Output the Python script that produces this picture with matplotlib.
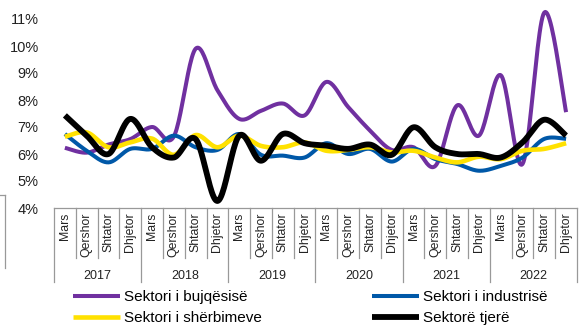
import numpy as np
import matplotlib
matplotlib.use('Agg')
import matplotlib.pyplot as plt
import matplotlib.transforms as mtransforms
from matplotlib.lines import Line2D

plt.rcParams['font.family'] = ['Liberation Sans', 'DejaVu Sans']

# Të dhënat tremujore (%)
vitet = ['2017', '2018', '2019', '2020', '2021', '2022']
muajt = ['Mars', 'Qershor', 'Shtator', 'Dhjetor']

bujqesia = [6.23, 6.05, 6.35, 6.55, 7.0, 6.65, 9.9, 8.36, 7.3, 7.6, 7.87, 7.43,
            8.67, 7.74, 6.87, 6.15, 6.25, 5.56, 7.8, 6.68, 8.92, 5.63, 11.24, 7.55]
industria = [6.74, 6.12, 5.69, 6.19, 6.19, 6.68, 6.25, 6.15, 6.74, 5.97, 5.94, 5.87,
             6.4, 6.0, 6.19, 5.72, 6.19, 5.81, 5.63, 5.38, 5.56, 5.87, 6.56, 6.56]
sherbimet = [6.64, 6.8, 6.25, 6.43, 6.57, 5.97, 6.7, 6.25, 6.68, 6.3, 6.25, 6.43,
             6.12, 6.15, 6.25, 6.06, 6.12, 5.87, 5.69, 5.9, 5.81, 6.12, 6.19, 6.4]
te_tjere = [7.43, 6.68, 6.0, 7.3, 6.25, 5.87, 6.55, 4.26, 6.68, 5.75, 6.74, 6.4,
            6.31, 6.19, 6.35, 5.97, 6.99, 6.25, 6.0, 6.0, 5.87, 6.43, 7.27, 6.68]

seri = [
    ('Sektori i bujqësisë', bujqesia, '#7030A0', 2.9),
    ('Sektori i industrisë', industria, '#0058A8', 2.9),
    ('Sektori i shërbimeve', sherbimet, '#FFE100', 3.3),
    ('Sektorë tjerë', te_tjere, '#000000', 4.2),
]


def smooth(vals, steps=24):
    # kurbë Bezier nëpër pikat, si vija e lëmuar e Excel-it
    pts = np.column_stack([np.arange(len(vals), dtype=float), np.asarray(vals, float)])
    t = np.linspace(0, 1, steps)[1:, None]
    out = [pts[0]]
    n = len(pts)
    for i in range(n - 1):
        p0, p1 = pts[max(i - 1, 0)], pts[i]
        p2, p3 = pts[i + 1], pts[min(i + 2, n - 1)]
        c1 = p1 + (p2 - p0) / 6
        c2 = p2 - (p3 - p1) / 6
        seg = (1 - t) ** 3 * p1 + 3 * (1 - t) ** 2 * t * c1 + 3 * (1 - t) * t ** 2 * c2 + t ** 3 * p2
        out.extend(seg)
    out = np.array(out)
    return out[:, 0], out[:, 1]


fig = plt.figure(figsize=(5.79, 3.29), dpi=100)
ax = fig.add_axes([54 / 579, 1 - 208 / 329, 523 / 579, 189 / 329])

vijat = []
for i, (emri, vlerat, ngjyra, lw) in enumerate(seri):
    xs, ys = smooth(vlerat)
    vija, = ax.plot(xs, ys, color=ngjyra, lw=lw, label=emri, zorder=2 + i,
                    solid_capstyle='butt', solid_joinstyle='round', clip_on=False)
    vijat.append(vija)

n = len(vitet) * len(muajt)
ax.set_xlim(-0.5, n - 0.5)
ax.set_ylim(4, 11)
ax.set_yticks(range(4, 12))
ax.set_yticklabels([f'{v}%' for v in range(4, 12)], fontsize=10.5, color='#222222')
ax.tick_params(axis='y', length=0, pad=11)
ax.set_xticks([])
for s in ['top', 'right', 'left']:
    ax.spines[s].set_visible(False)
ax.spines['bottom'].set_color('#999999')
ax.spines['bottom'].set_linewidth(0.9)

# boshti me dy nivele: muajt dhe vitet
tr = mtransforms.blended_transform_factory(ax.transData, ax.transAxes)
for k in range(n + 1):
    fund = -0.392 if k % 4 == 0 else -0.265
    ax.plot([k - 0.5, k - 0.5], [0, fund], color='#999999', lw=0.9,
            transform=tr, clip_on=False)
for k in range(n):
    ax.text(k, -0.025, muajt[k % 4], transform=tr, rotation=90, ha='center',
            va='top', fontsize=8.8, color='#222222')
for j, viti in enumerate(vitet):
    ax.text(j * 4 + 1.5, -0.36, viti, transform=tr, ha='center', va='center',
            fontsize=9, color='#222222')

# legjenda plotësohet sipas rreshtave
rendi = [0, 2, 1, 3]
ax.legend([vijat[i] for i in rendi], [seri[i][0] for i in rendi],
          loc='upper left', bbox_to_anchor=(73 / 579, 1 - 290 / 329),
          bbox_transform=fig.transFigure, ncol=2, frameon=False, fontsize=11,
          borderpad=0, borderaxespad=0, handlelength=3.1, handletextpad=0.25,
          columnspacing=7.2, labelspacing=0.45)

# kornizë e prerë në skajin e majtë
fig.add_artist(Line2D([4.5 / 579, 4.5 / 579], [1 - 195 / 329, 1 - 268 / 329],
                      color='#999999', lw=0.9))
fig.add_artist(Line2D([0, 4.5 / 579], [1 - 195 / 329, 1 - 195 / 329],
                      color='#999999', lw=0.9))

fig.savefig('out.png', dpi=100)
